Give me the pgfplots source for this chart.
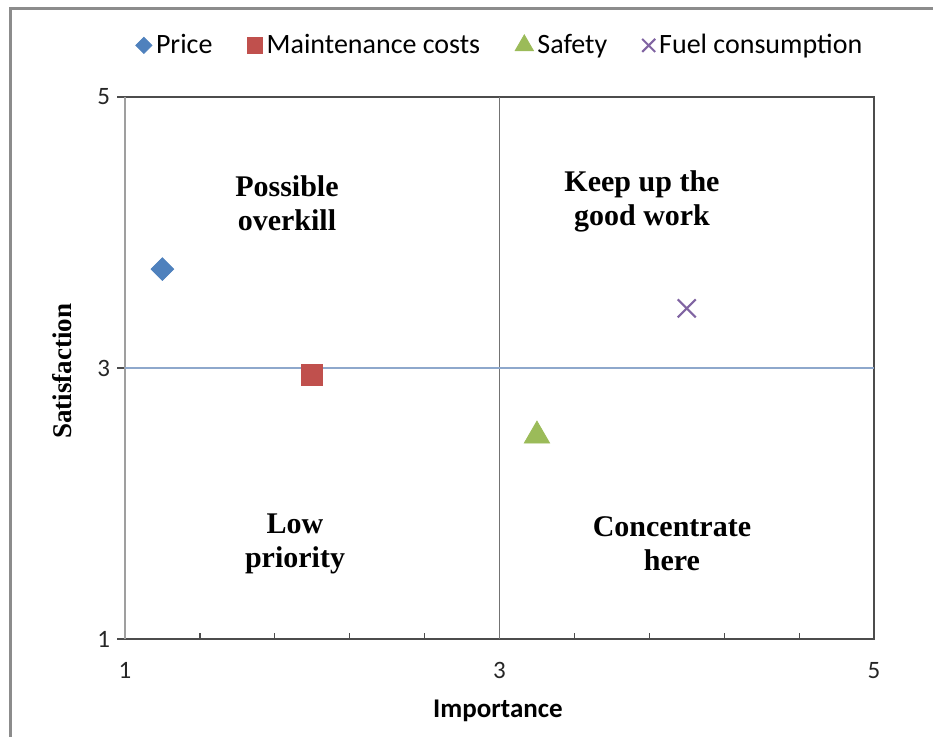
\documentclass[border=0pt]{standalone}
\usepackage{pgfplots}
\pgfplotsset{compat=1.18}
\usepackage{fontspec}
\setmainfont{Liberation Serif}
\newfontfamily\calibri{Carlito}
\definecolor{cPrice}{HTML}{4F81BD}
\definecolor{cMaint}{HTML}{C0504D}
\definecolor{cSafe}{HTML}{9BBB59}
\definecolor{cFuel}{HTML}{8064A2}
\definecolor{hline}{HTML}{8EA8CC}
\begin{document}
\begin{tikzpicture}
\path[use as bounding box] (0,0) rectangle (466.5pt,368pt);
\draw[black!45, line width=1.5pt] (5pt,-5pt) -- (5pt,363.75pt) -- (475pt,363.75pt);
\begin{axis}[
  at={(62.5pt,48.5pt)}, anchor=south west,
  scale only axis, width=374.5pt, height=271pt,
  xmin=1, xmax=5, ymin=1, ymax=5,
  xtick={1,3,5}, ytick={1,3,5},
  minor xtick={1.4,1.8,2.2,2.6,3.4,3.8,4.2,4.6},
  tick pos=left,
  xtick align=inside, ytick align=outside,
  major tick length=4pt, minor tick length=3pt,
  every tick/.style={black!70, line width=0.6pt},
  axis line style={black!70, line width=0.8pt},
  /pgf/number format/assume math mode=true,
  ticklabel style={font=\calibri\fontsize{12.5}{14}\selectfont, text=black!85},
  xticklabel style={yshift=-8pt},
  xlabel={Importance},
  ylabel={Satisfaction},
  xlabel style={at={(axis description cs:0.498,-0.133)}, anchor=center, font=\calibri\bfseries\fontsize{13.5}{16}\selectfont},
  ylabel style={at={(axis description cs:-0.0841,0.494)}, anchor=center, rotate=0, font=\bfseries\fontsize{13.5}{16}\selectfont},
  legend style={at={(0.502,1)}, anchor=south, yshift=16pt, draw=none, fill=none,
    font=\calibri\fontsize{14}{16}\selectfont, legend columns=4,
    /tikz/every even column/.append style={column sep=15.5pt},
    /tikz/every odd column/.append style={column sep=0pt}},
  legend cell align=left,
  legend image code/.code={\draw[#1,/tikz/every mark/.append style={scale=0.72}] plot coordinates {(0pt,0pt)};},
  clip=false,
]
\draw[gray!75, line width=0.8pt] (axis cs:1,1) -- (axis cs:1,5);
\draw[black!55, line width=0.6pt] (axis cs:3,1) -- (axis cs:3,5);
\draw[hline, line width=0.9pt] (axis cs:1,3) -- (axis cs:5,3);

\addplot[only marks, color=cPrice, mark=square*, mark size=4pt, mark options={rotate=45}] coordinates {(1.2,3.73)};
\addlegendentry{Price}
\addplot[only marks, color=cMaint, mark=square*, mark size=5.3pt] coordinates {(2.0,2.95)};
\addlegendentry{Maintenance costs}
\addplot[only marks, color=cSafe, mark=triangle*, mark size=7.3pt] coordinates {(3.2,2.5)};
\addlegendentry{Safety}
\addplot[only marks, color=cFuel, mark=x, mark size=6.4pt, mark options={line width=1pt}] coordinates {(4.0,3.44)};
\addlegendentry{Fuel consumption}

\node[align=center, font=\bfseries\fontsize{15}{17}\selectfont] at (axis cs:1.865,4.218) {Possible\\overkill};
\node[align=center, font=\bfseries\fontsize{15}{17}\selectfont] at (axis cs:3.761,4.23) {Keep up the\\good work};
\node[align=center, font=\bfseries\fontsize{15}{17}\selectfont] at (axis cs:1.908,1.70) {Low\\priority};
\node[align=center, font=\bfseries\fontsize{15}{17}\selectfont] at (axis cs:3.921,1.70) {Concentrate\\here};
\end{axis}
\end{tikzpicture}
\end{document}
